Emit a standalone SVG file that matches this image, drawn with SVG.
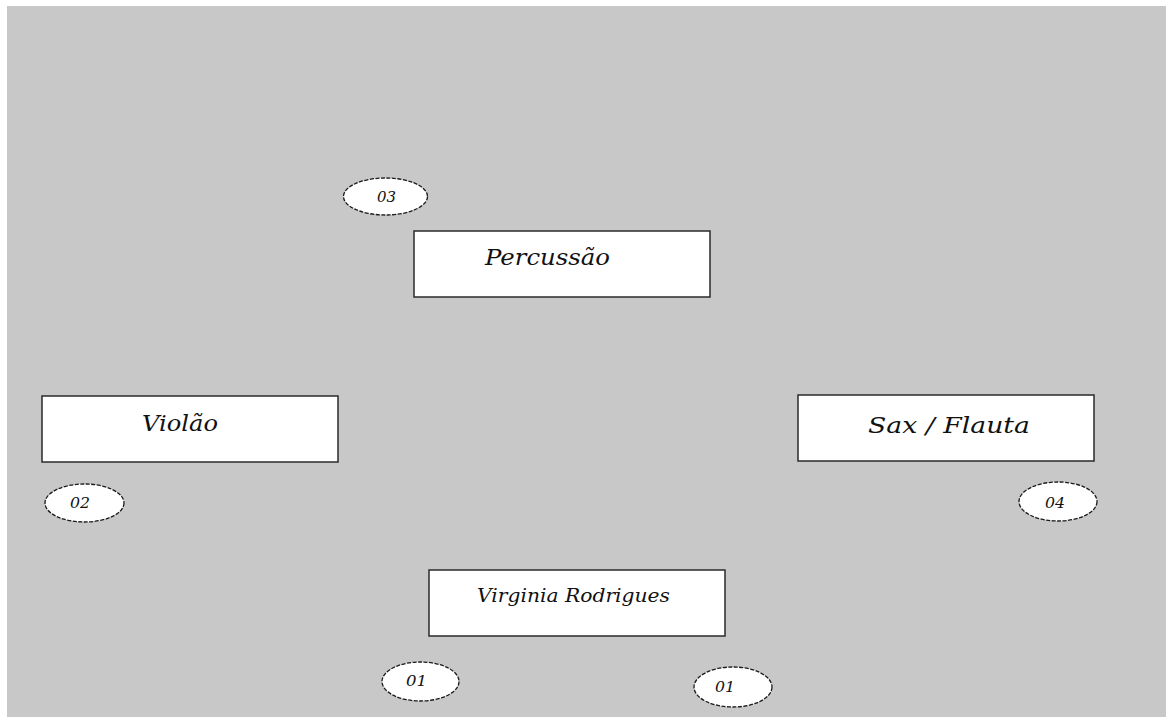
<svg xmlns="http://www.w3.org/2000/svg" width="1166" height="717" viewBox="0 0 1166 717">
<style>
.box{fill:#fff;stroke:#2a2a2a;stroke-width:1.5}
.tag{fill:#fff;stroke:#1a1a1a;stroke-width:1.3;stroke-dasharray:4 1.5}
.lbl{font-family:"DejaVu Serif","Liberation Serif",serif;font-style:italic;fill:#111}
.big{font-size:23px}
.mid{font-size:19px}
.num{font-size:15px}
</style>
<rect x="0" y="0" width="1166" height="717" fill="#fff"/>
<rect x="7" y="6" width="1159" height="711" fill="#c8c8c8"/>
<g id="percussao"><rect class="box" x="414" y="231" width="296" height="66"/><text class="lbl big" x="485" y="265" textLength="125" lengthAdjust="spacingAndGlyphs">Percussão</text></g>
<g id="violao"><rect class="box" x="42" y="396" width="296" height="66"/><text class="lbl big" x="142" y="431" textLength="76" lengthAdjust="spacingAndGlyphs">Violão</text></g>
<g id="sax"><rect class="box" x="798" y="395" width="296" height="66"/><text class="lbl big" x="868" y="433" textLength="162" lengthAdjust="spacingAndGlyphs">Sax / Flauta</text></g>
<g id="virginia"><rect class="box" x="429" y="570" width="296" height="66"/><text class="lbl mid" x="477" y="602" textLength="193" lengthAdjust="spacingAndGlyphs">Virginia Rodrigues</text></g>
<g id="tag03"><ellipse class="tag" cx="385.5" cy="196.5" rx="42" ry="18.5"/><text class="lbl num" x="377" y="202" textLength="19" lengthAdjust="spacingAndGlyphs">03</text></g>
<g id="tag02"><ellipse class="tag" cx="84.5" cy="503" rx="39.5" ry="19"/><text class="lbl num" x="70" y="508" textLength="20" lengthAdjust="spacingAndGlyphs">02</text></g>
<g id="tag04"><ellipse class="tag" cx="1058" cy="501.5" rx="39" ry="19.5"/><text class="lbl num" x="1045" y="508" textLength="20" lengthAdjust="spacingAndGlyphs">04</text></g>
<g id="tag01a"><ellipse class="tag" cx="420.5" cy="681.5" rx="38.5" ry="19.5"/><text class="lbl num" x="406" y="686" textLength="21" lengthAdjust="spacingAndGlyphs">01</text></g>
<g id="tag01b"><ellipse class="tag" cx="733" cy="687" rx="39" ry="20"/><text class="lbl num" x="715" y="692" textLength="20" lengthAdjust="spacingAndGlyphs">01</text></g>
<g id="connectors"/>
</svg>
